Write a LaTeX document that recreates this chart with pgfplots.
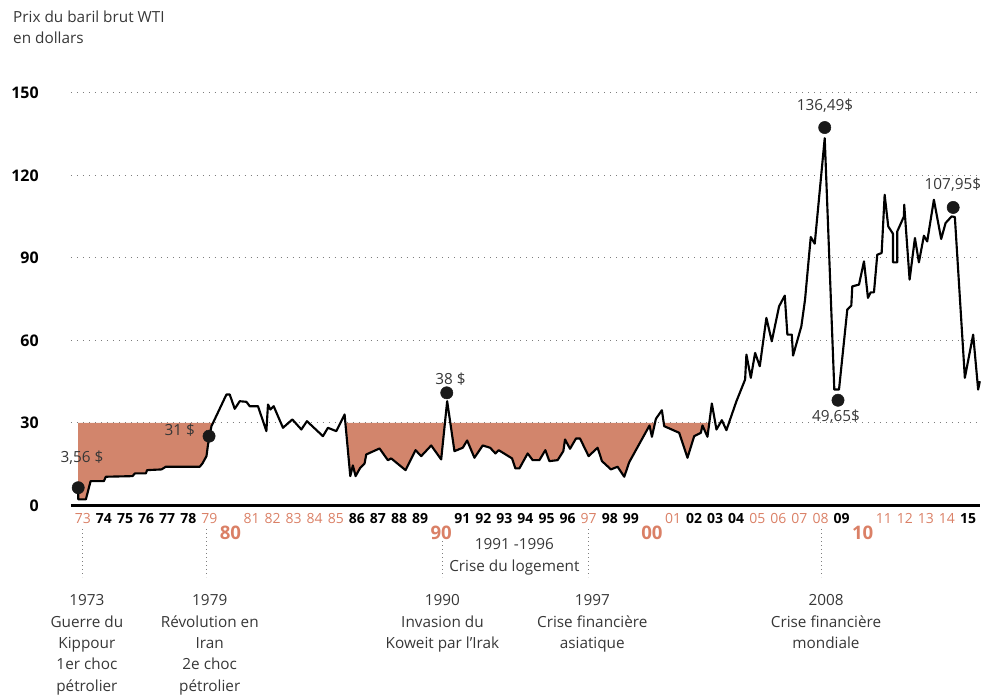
\documentclass[border=0pt]{standalone}
\usepackage{pgfplots}
\usepackage{pgfplotstable}
\pgfplotsset{compat=1.18}
\usepackage{fontspec}
\setmainfont{Open Sans}

\definecolor{sal}{RGB}{210,133,108}
\definecolor{salt}{RGB}{218,128,102}
\definecolor{txt}{RGB}{55,55,55}
\definecolor{dotgray}{RGB}{125,125,125}
\newcommand\co[1]{\textcolor{salt}{#1}}
\newcommand\bk[1]{\textbf{#1}}

% WTI price, x = year, y = dollars
\pgfplotstableread{
year price
1972.777 5.81
1972.780 2.18
1973.142 2.18
1973.365 8.83
1973.995 8.83
1974.090 10.42
1975.355 10.64
1975.464 11.62
1975.986 11.62
1976.047 12.82
1976.730 13.08
1976.934 14.06
1978.545 14.06
1978.673 15.25
1978.863 17.91
1978.938 22.16
1979.019 25.79
1979.100 28.80
1979.810 40.32
1979.967 40.32
1980.204 35.12
1980.441 37.88
1980.758 37.66
1980.915 36.07
1981.308 36.07
1981.706 26.99
1981.782 36.68
1981.896 34.87
1982.052 36.07
1982.493 28.22
1982.938 31.24
1983.365 27.60
1983.630 30.62
1984.389 25.17
1984.626 28.22
1985.024 26.99
1985.417 33.05
1985.687 10.64
1985.810 14.53
1985.938 10.64
1986.161 13.69
1986.365 15.25
1986.445 18.52
1987.076 20.70
1987.469 16.45
1987.630 17.07
1988.308 12.82
1988.782 20.08
1989.052 17.91
1989.526 21.79
1990.000 16.71
1990.284 37.88
1990.630 19.72
1991.024 20.96
1991.232 23.61
1991.578 17.32
1991.971 21.79
1992.322 20.96
1992.573 18.89
1992.730 20.08
1993.365 17.07
1993.521 13.44
1993.711 13.44
1994.104 18.89
1994.341 16.45
1994.659 16.45
1994.943 20.08
1995.133 16.09
1995.526 16.45
1995.796 19.72
1995.877 23.97
1996.114 20.59
1996.398 24.33
1996.588 24.33
1996.995 17.91
1997.422 20.96
1997.630 16.09
1998.055 13.08
1998.370 14.06
1998.687 10.42
1998.924 15.73
1999.886 29.06
1999.999 24.95
2000.189 31.49
2000.473 34.61
2000.582 28.80
2001.293 26.40
2001.687 17.32
2002.005 25.17
2002.322 26.40
2002.398 29.06
2002.635 24.95
2002.843 37.05
2003.062 27.60
2003.318 30.98
2003.535 27.35
2004.009 37.88
2004.422 45.76
2004.483 54.84
2004.692 46.38
2004.896 55.46
2005.118 50.59
2005.431 68.17
2005.687 59.67
2006.033 72.39
2006.303 76.27
2006.427 62.11
2006.635 62.11
2006.697 54.48
2007.090 65.12
2007.265 74.82
2007.536 97.59
2007.725 95.16
2008.199 133.55
2008.654 42.13
2008.877 42.13
2009.270 71.19
2009.460 72.64
2009.507 79.65
2009.825 80.27
2010.062 88.73
2010.251 75.44
2010.379 77.47
2010.536 77.47
2010.692 91.16
2010.900 91.78
2011.043 112.96
2011.213 101.44
2011.436 98.79
2011.437 88.37
2011.640 88.37
2011.641 99.63
2011.957 105.07
2011.971 109.32
2012.227 82.08
2012.479 97.23
2012.668 88.37
2012.905 98.06
2013.062 95.99
2013.379 111.14
2013.725 96.87
2013.934 102.68
2014.218 105.07
2014.374 104.86
2014.848 46.38
2015.242 62.11
2015.479 42.13
2015.559 45.15
}\wti

\begin{document}
\begin{tikzpicture}
% pixel frame of the reference: 1px = 0.75pt, origin top left
\begin{scope}[x=0.75pt,y=-0.75pt,shift={(-53.25pt,379.5pt)}]
  \useasboundingbox (0,0) rectangle (981,698);
\end{scope}

\begin{axis}[
    at={(0,0)}, anchor=south west,
    scale only axis, width=682.5pt, height=309.75pt,
    xmin=1972.431, xmax=2015.559, ymin=0, ymax=150,
    clip=false,
    axis x line=bottom, axis y line=left,
    x axis line style={-, line width=1.75pt, black},
    y axis line style={draw=none},
    major tick length=0pt,
    ytick={0,30,60,90,120,150},
    yticklabels={0,30,60,90,120,150},
    yticklabel style={anchor=east, inner sep=0pt, xshift=-24pt,
        font=\fontsize{12}{14}\selectfont\bfseries, text=black},
    ymajorgrids,
    grid style={dotgray, line width=0.7pt, dash pattern=on 0.75pt off 3.75pt},
    xtick={1973,1974,1975,1976,1977,1978,1979,1981,1982,1983,1984,1985,1986,1987,1988,1989,1991,1992,1993,1994,1995,1996,1997,1998,1999,2001,2002,2003,2004,2005,2006,2007,2008,2009,2011,2012,2013,2014,2015},
    xticklabels={{\co{73}},{\bk{74}},{\bk{75}},{\bk{76}},{\bk{77}},{\bk{78}},{\co{79}},
        {\co{81}},{\co{82}},{\co{83}},{\co{84}},{\co{85}},{\bk{86}},{\bk{87}},{\bk{88}},{\bk{89}},
        {\bk{91}},{\bk{92}},{\bk{93}},{\bk{94}},{\bk{95}},{\bk{96}},{\co{97}},{\bk{98}},{\bk{99}},
        {\co{01}},{\bk{02}},{\bk{03}},{\bk{04}},{\co{05}},{\co{06}},{\co{07}},{\co{08}},{\bk{09}},
        {\co{11}},{\co{12}},{\co{13}},{\co{14}},{\bk{15}}},
    xticklabel style={anchor=base, inner sep=0pt, yshift=-13.9pt,
        font=\fontsize{10.5}{12}\selectfont, text=black},
    extra x ticks={1980,1990,2000,2010},
    extra x tick labels={80,90,00,10},
    extra x tick style={xticklabel style={yshift=-11.6pt,
        font=\fontsize{14}{16}\selectfont\bfseries, text=salt}},
]

% shaded periods below 30 dollars
\addplot[fill=sal, draw=none] coordinates {
    (1972.777,30) (1972.777,5.81) (1972.780,2.18) (1973.142,2.18) (1973.365,8.83)
    (1973.995,8.83) (1974.090,10.42) (1975.355,10.64) (1975.464,11.62) (1975.986,11.62)
    (1976.047,12.82) (1976.730,13.08) (1976.934,14.06) (1978.545,14.06) (1978.673,15.25)
    (1978.863,17.91) (1978.938,22.16) (1979.019,25.79) (1979.100,28.80) (1979.174,30)
};
\addplot[fill=sal, draw=none] coordinates {
    (1985.454,30) (1985.687,10.64) (1985.810,14.53) (1985.938,10.64) (1986.161,13.69)
    (1986.365,15.25) (1986.445,18.52) (1987.076,20.70) (1987.469,16.45) (1987.630,17.07)
    (1988.308,12.82) (1988.782,20.08) (1989.052,17.91) (1989.526,21.79) (1990.000,16.71)
    (1990.178,30) (1990.434,30)
    (1990.630,19.72) (1991.024,20.96) (1991.232,23.61) (1991.578,17.32) (1991.971,21.79)
    (1992.322,20.96) (1992.573,18.89) (1992.730,20.08) (1993.365,17.07) (1993.521,13.44)
    (1993.711,13.44) (1994.104,18.89) (1994.341,16.45) (1994.659,16.45) (1994.943,20.08)
    (1995.133,16.09) (1995.526,16.45) (1995.796,19.72) (1995.877,23.97) (1996.114,20.59)
    (1996.398,24.33) (1996.588,24.33) (1996.995,17.91) (1997.422,20.96) (1997.630,16.09)
    (1998.055,13.08) (1998.370,14.06) (1998.687,10.42) (1998.924,15.73) (1999.886,29.06)
    (1999.999,24.95) (2000.146,30)
};
\addplot[fill=sal, draw=none] coordinates {
    (2000.559,30) (2000.582,28.80) (2001.293,26.40) (2001.687,17.32) (2002.005,25.17)
    (2002.322,26.40) (2002.398,29.06) (2002.635,24.95) (2002.722,30)
};

% price line
\addplot[black, line width=1.6pt, line join=round] table[x=year, y=price] {\wti};

% highlighted values
\addplot[only marks, mark=*, mark size=4.6pt, color=black!90] coordinates {
    (1972.777,6.43) (1978.986,25.17) (1990.265,40.93)
    (2008.199,137.40) (2008.829,38.24) (2014.294,108.34)
};
\end{axis}

\begin{scope}[x=0.75pt,y=-0.75pt,shift={(-53.25pt,379.5pt)},
    every node/.style={text=txt, inner sep=0pt, font=\fontsize{11.5}{16.1}\selectfont}]
  \node[anchor=base west] at (13,23) {Prix du baril brut WTI};
  \node[anchor=base west] at (13,44) {en dollars};

  \node at (82,458) {3,56 \$};
  \node at (180,431) {31 \$};
  \node at (451,380) {38 \$};
  \node at (826,106) {136,49\$};
  \node at (837,417) {49,65\$};
  \node at (954,185) {107,95\$};

  \draw[dotgray, line width=0.7pt, dash pattern=on 0.75pt off 2.25pt]
    (83,530) -- (83,578)
    (207,530) -- (207,578)
    (443,542) -- (443,578)
    (589,530) -- (589,578)
    (822,530) -- (822,578);

  \node[anchor=north, align=center] at (515,539) {1991 -1996\\Crise du logement};
  \node[anchor=north, align=center] at (87,595) {1973\\Guerre du\\Kippour\\1er choc\\pétrolier};
  \node[anchor=north, align=center] at (210,595) {1979\\Révolution en\\Iran\\2e choc\\pétrolier};
  \node[anchor=north, align=center] at (443,595) {1990\\Invasion du\\Koweit par l’Irak};
  \node[anchor=north, align=center] at (593,595) {1997\\Crise financière\\asiatique};
  \node[anchor=north, align=center] at (827,595) {2008\\Crise financière\\mondiale};
\end{scope}
\end{tikzpicture}
\end{document}
